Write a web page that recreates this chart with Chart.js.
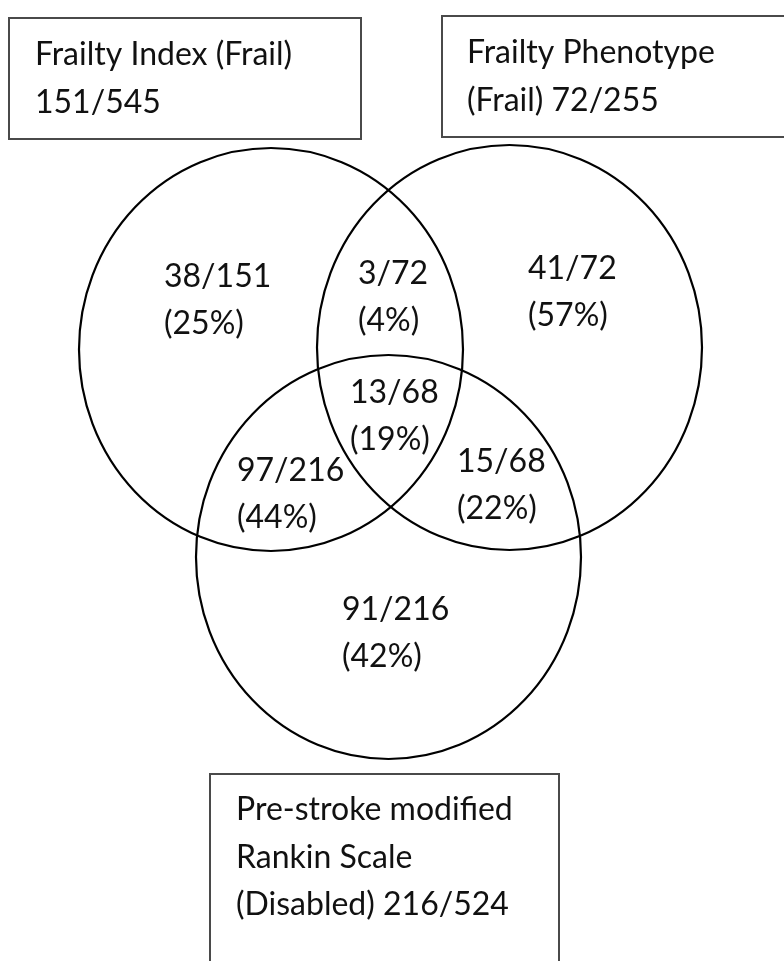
<!DOCTYPE html>
<html>
<head>
<meta charset="utf-8">
<script src="https://cdn.jsdelivr.net/npm/chart.js@4.4.1/dist/chart.umd.min.js"></script>
<style>
html, body { margin: 0; padding: 0; background: #fff; }
#wrap { width: 784px; height: 961px; }
</style>
</head>
<body>
<div id="wrap"><canvas id="canvas" width="784" height="961"></canvas></div>
<script>
// the three sets: frail / disabled count over the total assessed
var setNames = ['Frailty Index', 'Frailty Phenotype', 'Pre-stroke modified Rankin Scale'];
var setCounts = [151, 72, 216];
var setTotals = [545, 255, 524];
// how each set label is broken into lines inside its box
var setLabels = [
    ['Frailty Index (Frail)', '151/545'],
    ['Frailty Phenotype', '(Frail) 72/255'],
    ['Pre-stroke modified', 'Rankin Scale', '(Disabled) 216/524']
];

// the seven regions of the diagram
var regionNames = ['FI only', 'FI & FP', 'FP only', 'FI & FP & mRS', 'FI & mRS', 'FP & mRS', 'mRS only'];
var regionCounts = [38, 3, 41, 13, 97, 15, 91];
var regionTotals = [151, 72, 72, 68, 216, 68, 216];
var regionPct = ['25%', '4%', '57%', '19%', '44%', '22%', '42%'];

// layout, in page pixels (axes run 0..784 and 0..961 top-down)
var circlePos = [[271, 349.5], [509.5, 347.5], [388.5, 557]];
var circleRad = [[192, 201.5], [192.5, 202.5], [192.5, 202]];
var boxRect = [[9, 18, 352, 121], [442, 16, 360, 121], [210, 774, 349, 200]];
var boxText = [[35, 65], [467, 63], [236, 820]];
var regionPos = [[164, 287], [358, 284], [528, 279], [350, 403], [237, 481], [457, 472], [342, 620]];

var FONT = '32px Lato, "Open Sans", sans-serif';
var TEXT_COLOR = '#111';

var vennPlugin = {
    id: 'venn',
    afterDatasetsDraw: function (chart) {
        var ctx = chart.ctx;
        var xs = chart.scales.x, ys = chart.scales.y;
        ctx.save();

        // boxes with the set names
        ctx.strokeStyle = '#4a4a4a';
        ctx.lineWidth = 2;
        boxRect.forEach(function (b, i) {
            var x0 = xs.getPixelForValue(b[0]), y0 = ys.getPixelForValue(b[1]);
            var x1 = xs.getPixelForValue(b[0] + b[2]), y1 = ys.getPixelForValue(b[1] + b[3]);
            ctx.strokeRect(x0, y0, x1 - x0, y1 - y0);
            ctx.fillStyle = TEXT_COLOR;
            ctx.font = FONT;
            ctx.textAlign = 'left';
            ctx.textBaseline = 'alphabetic';
            setLabels[i].forEach(function (line, j) {
                ctx.fillText(line, xs.getPixelForValue(boxText[i][0]), ys.getPixelForValue(boxText[i][1] + j * 47.5));
            });
        });

        // the circles, drawn round the points of dataset 0
        var meta = chart.getDatasetMeta(0);
        ctx.strokeStyle = '#000';
        ctx.lineWidth = 2.2;
        meta.data.forEach(function (pt, i) {
            var rx = Math.abs(xs.getPixelForValue(circlePos[i][0] + circleRad[i][0]) - pt.x);
            var ry = Math.abs(ys.getPixelForValue(circlePos[i][1] + circleRad[i][1]) - pt.y);
            ctx.beginPath();
            ctx.ellipse(pt.x, pt.y, rx, ry, 0, 0, Math.PI * 2);
            ctx.stroke();
        });

        // region counts, anchored at the points of dataset 1
        var meta2 = chart.getDatasetMeta(1);
        ctx.fillStyle = TEXT_COLOR;
        ctx.font = FONT;
        ctx.textAlign = 'left';
        meta2.data.forEach(function (pt, i) {
            ctx.fillText(regionCounts[i] + '/' + regionTotals[i], pt.x, pt.y);
            ctx.fillText('(' + regionPct[i] + ')', pt.x, pt.y + 47);
        });
        ctx.restore();
    }
};

new Chart(document.getElementById('canvas').getContext('2d'), {
    type: 'scatter',
    data: {
        datasets: [{
            label: 'Sets',
            data: circlePos.map(function (p, i) { return { x: p[0], y: p[1], name: setNames[i], n: setCounts[i], total: setTotals[i] }; }),
            pointRadius: 0
        }, {
            label: 'Regions',
            data: regionPos.map(function (p, i) { return { x: p[0], y: p[1], name: regionNames[i] }; }),
            pointRadius: 0
        }]
    },
    options: {
        responsive: false,
        animation: false,
        layout: { padding: 0 },
        plugins: { legend: { display: false }, tooltip: { enabled: false } },
        scales: {
            x: { type: 'linear', min: 0, max: 784, display: false },
            y: { type: 'linear', min: 0, max: 961, reverse: true, display: false }
        }
    },
    plugins: [vennPlugin]
});
</script>
</body>
</html>
